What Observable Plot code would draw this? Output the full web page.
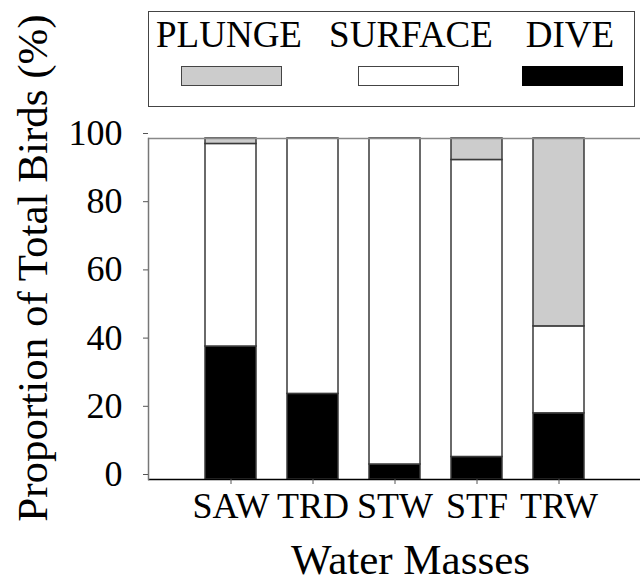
<!DOCTYPE html>
<html>
<head>
<meta charset="utf-8">
<script src="https://cdn.jsdelivr.net/npm/d3@7"></script>
<script src="https://cdn.jsdelivr.net/npm/@observablehq/plot@0.6"></script>
<style>
  html, body { margin: 0; padding: 0; background: #fff; }
  #page { position: relative; width: 642px; height: 581px; overflow: hidden; font-family: 'Liberation Serif', 'Times New Roman', serif; color: #000; }
  #legend-box { position: absolute; left: 148px; top: 11px; width: 487px; height: 96px; border: 1.5px solid #444; box-sizing: border-box; }
  .lg-label { position: absolute; top: 16px; width: 200px; text-align: center; font-size: 37px; line-height: 37px; white-space: nowrap; }
  .lg-swatch { position: absolute; top: 66px; width: 101px; height: 20px; box-sizing: border-box; border: 1.5px solid #444; }
  #chart { position: absolute; left: 0; top: 0; }
</style>
</head>
<body>
<div id="page">
  <div id="chart"></div>
  <div id="legend-box"></div>
</div>
<script>
// ---- data ----
const categories = ["SAW", "TRD", "STW", "STF", "TRW"];
const series = ["PLUNGE", "SURFACE", "DIVE"];
const seriesColors = ["#cccccc", "#ffffff", "#000000"];
const diveValues = [39.0, 25.1, 4.4, 6.6, 19.4];
const surfaceValues = [59.4, 74.9, 95.6, 87.1, 25.5];
const plungeValues = [1.6, 0, 0, 6.3, 55.1];
const yTicks = [0, 20, 40, 60, 80, 100];
const xTitle = "Water Masses";
const yTitle = "Proportion of Total Birds (%)";

// ---- table ----
const rows = [];
categories.forEach((c, i) => {
  rows.push({cat: c, type: "DIVE", value: diveValues[i]});
  rows.push({cat: c, type: "SURFACE", value: surfaceValues[i]});
  rows.push({cat: c, type: "PLUNGE", value: plungeValues[i]});
});
const data = rows.filter(d => d.value > 0);

const chart = Plot.plot({
  width: 642,
  height: 581,
  marginTop: 138,
  marginBottom: 102,
  marginLeft: 148,
  marginRight: 2,
  style: {fontFamily: "'Liberation Serif', 'Times New Roman', serif", background: "white", color: "black", overflow: "visible"},
  x: {domain: categories, paddingInner: 0.38, paddingOuter: 0.69, label: null},
  y: {domain: [0, 100], ticks: yTicks, label: null},
  color: {domain: series, range: seriesColors},
  marks: [
    Plot.barY(data, {x: "cat", y: "value", fill: "type", order: ["DIVE", "SURFACE", "PLUNGE"], stroke: "#3a3a3a", strokeWidth: 1.5}),
    Plot.ruleY([100], {stroke: "#888", strokeWidth: 1.5}),
    Plot.ruleY([0], {stroke: "#000", strokeWidth: 1.5}),
    Plot.frame({anchor: "left", stroke: "#777", strokeWidth: 1.5}),
    Plot.axisY(yTicks, {tickSize: 5, tickPadding: 21, fontSize: 36, dy: -5, label: null, stroke: "#555"}),
    Plot.axisX({tickSize: 5, tickPadding: 7.5, fontSize: 36, label: null, stroke: "#555"}),
    Plot.text([yTitle], {frameAnchor: "left", textAnchor: "middle", lineAnchor: "middle", rotate: -90, fontSize: 43, dx: -115, dy: -41}),
    Plot.text([xTitle], {frameAnchor: "bottom", textAnchor: "middle", lineAnchor: "middle", fontSize: 43, dx: 16, dy: 81})
  ]
});
document.getElementById("chart").appendChild(chart);

// ---- legend (HTML, above the plot area) ----
const page = document.getElementById("page");
const labelCenters = [229, 411, 570];
const swatchLefts = [181, 358, 522];
series.forEach((s, i) => {
  const lab = document.createElement("div");
  lab.className = "lg-label";
  lab.textContent = s;
  lab.style.left = (labelCenters[i] - 100) + "px";
  page.appendChild(lab);
  const sw = document.createElement("div");
  sw.className = "lg-swatch";
  sw.style.left = swatchLefts[i] + "px";
  sw.style.background = seriesColors[i];
  if (seriesColors[i] === "#000000") sw.style.borderColor = "#000";
  page.appendChild(sw);
});
</script>
</body>
</html>
